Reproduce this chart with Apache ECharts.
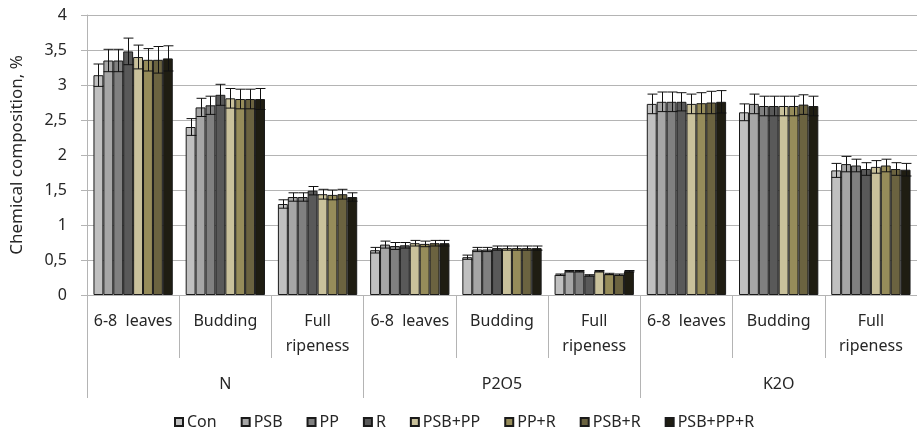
<!DOCTYPE html>
<html>
<head>
<meta charset="utf-8">
<script src="https://cdn.jsdelivr.net/npm/echarts@6/dist/echarts.min.js"></script>
<style>html,body{margin:0;padding:0;background:#fff;}#c{width:917px;height:434px;}</style>
</head>
<body>
<div id="c"></div>
<script>
const categories = ['6-8  leaves', 'Budding', 'Full\nripeness', '6-8  leaves', 'Budding', 'Full\nripeness', '6-8  leaves', 'Budding', 'Full\nripeness'];
const groups = ['N', 'P2O5', 'K2O'];
const seriesNames = ['Con', 'PSB', 'PP', 'R', 'PSB+PP', 'PP+R', 'PSB+R', 'PSB+PP+R'];
const yTicks = [0, 0.5, 1, 1.5, 2, 2.5, 3, 3.5, 4];

const valCon    = [3.14, 2.40, 1.30, 0.64, 0.54, 0.29, 2.73, 2.61, 1.78];
const valPSB    = [3.35, 2.68, 1.40, 0.72, 0.65, 0.34, 2.76, 2.73, 1.87];
const valPP     = [3.35, 2.71, 1.40, 0.70, 0.65, 0.34, 2.76, 2.70, 1.85];
const valR      = [3.48, 2.86, 1.49, 0.71, 0.67, 0.28, 2.76, 2.70, 1.80];
const valPSBPP  = [3.40, 2.81, 1.44, 0.74, 0.67, 0.34, 2.73, 2.70, 1.83];
const valPPR    = [3.36, 2.80, 1.43, 0.73, 0.67, 0.30, 2.74, 2.70, 1.85];
const valPSBR   = [3.36, 2.80, 1.44, 0.74, 0.67, 0.29, 2.75, 2.72, 1.80];
const valPSBPPR = [3.38, 2.80, 1.40, 0.74, 0.67, 0.34, 2.76, 2.70, 1.79];

const errCon    = [0.16, 0.12, 0.06, 0.04, 0.03, 0.01, 0.14, 0.12, 0.10];
const errPSB    = [0.16, 0.13, 0.06, 0.05, 0.03, 0.01, 0.14, 0.14, 0.11];
const errPP     = [0.16, 0.13, 0.06, 0.05, 0.03, 0.01, 0.14, 0.14, 0.09];
const errR      = [0.19, 0.15, 0.06, 0.04, 0.03, 0.01, 0.13, 0.14, 0.09];
const errPSBPP  = [0.17, 0.14, 0.07, 0.04, 0.03, 0.01, 0.14, 0.14, 0.09];
const errPPR    = [0.16, 0.14, 0.07, 0.04, 0.03, 0.01, 0.15, 0.14, 0.09];
const errPSBR   = [0.19, 0.14, 0.07, 0.04, 0.03, 0.01, 0.16, 0.14, 0.09];
const errPSBPPR = [0.18, 0.15, 0.06, 0.04, 0.03, 0.01, 0.16, 0.14, 0.09];

const values = [valCon, valPSB, valPP, valR, valPSBPP, valPPR, valPSBR, valPSBPPR];
const errors = [errCon, errPSB, errPP, errR, errPSBPP, errPPR, errPSBR, errPSBPPR];
const colors = ['#c0c0c0', '#a6a6a6', '#808080', '#595959', '#c9c19b', '#968c5a', '#6b6340', '#1f1d12'];

const GAP = 0.14;
const FONT = 'Noto Sans';
const TXT = '#262626';
const GRID = '#b4b4b4';

const chart = echarts.init(document.getElementById('c'));

const series = seriesNames.map((n, i) => ({
  name: n,
  type: 'bar',
  xAxisIndex: 0,
  data: values[i],
  barGap: '0%',
  barCategoryGap: (GAP * 100) + '%',
  itemStyle: { color: colors[i], borderColor: '#1a1a1a', borderWidth: 1 },
  emphasis: { disabled: true },
  z: 2
}));

const errData = [];
seriesNames.forEach((n, s) => {
  values[s].forEach((v, c) => errData.push([c, v, errors[s][c], s]));
});

series.push({
  type: 'custom',
  xAxisIndex: 0,
  data: errData,
  encode: { x: 0, y: 1 },
  z: 5,
  silent: true,
  renderItem: function (params, api) {
    const c = api.value(0), v = api.value(1), e = api.value(2), s = api.value(3);
    const band = api.size([1, 0])[0];
    const total = band * (1 - GAP);
    const bw = total / seriesNames.length;
    const cx = Math.round(api.coord([c, v])[0] - total / 2 + (s + 0.5) * bw) + 0.5;
    const yt = api.coord([c, v + e])[1];
    const yb = api.coord([c, v - e])[1];
    const h = bw / 2;
    const st = { stroke: '#111', lineWidth: 1 };
    return {
      type: 'group',
      children: [
        { type: 'line', shape: { x1: cx, y1: yt, x2: cx, y2: yb }, style: st },
        { type: 'line', shape: { x1: cx - h, y1: yt, x2: cx + h, y2: yt }, style: st },
        { type: 'line', shape: { x1: cx - h, y1: yb, x2: cx + h, y2: yb }, style: st }
      ]
    };
  }
});

chart.setOption({
  animation: false,
  backgroundColor: '#fff',
  textStyle: { fontFamily: FONT, color: TXT },
  grid: { left: 87, top: 15, bottom: 139, width: 840 },
  legend: {
    data: seriesNames,
    bottom: -1,
    left: 169,
    icon: 'rect',
    itemWidth: 8,
    itemHeight: 8,
    itemGap: 24,
    textStyle: { fontFamily: FONT, fontSize: 16, color: TXT, padding: [0, 0, 0, -1] }
  },
  xAxis: [
    {
      type: 'category',
      data: categories,
      position: 'bottom',
      axisLine: { show: true, lineStyle: { color: GRID } },
      axisTick: { show: true, alignWithLabel: false, interval: 0, length: 63, lineStyle: { color: GRID } },
      axisLabel: { interval: 0, margin: 14, fontSize: 16, lineHeight: 25, color: TXT, fontFamily: FONT, align: 'center' }
    },
    {
      type: 'category',
      data: groups,
      position: 'bottom',
      axisLine: { show: false },
      axisTick: { show: true, alignWithLabel: false, interval: 0, length: 103, lineStyle: { color: GRID } },
      axisLabel: { interval: 0, margin: 81, fontSize: 16, color: TXT, fontFamily: FONT }
    }
  ],
  yAxis: {
    type: 'value',
    min: yTicks[0],
    max: yTicks[yTicks.length - 1],
    interval: 0.5,
    name: 'Chemical composition, %',
    nameLocation: 'middle',
    nameGap: 61,
    nameTextStyle: { fontSize: 17, color: TXT, fontFamily: FONT },
    axisLine: { show: true, lineStyle: { color: GRID } },
    axisTick: { show: true, length: 6, lineStyle: { color: GRID } },
    splitLine: { show: true, lineStyle: { color: GRID } },
    axisLabel: { fontSize: 16, color: TXT, margin: 20, fontFamily: FONT, formatter: v => String(v).replace('.', ',') }
  },
  series: series
});
</script>
</body>
</html>
